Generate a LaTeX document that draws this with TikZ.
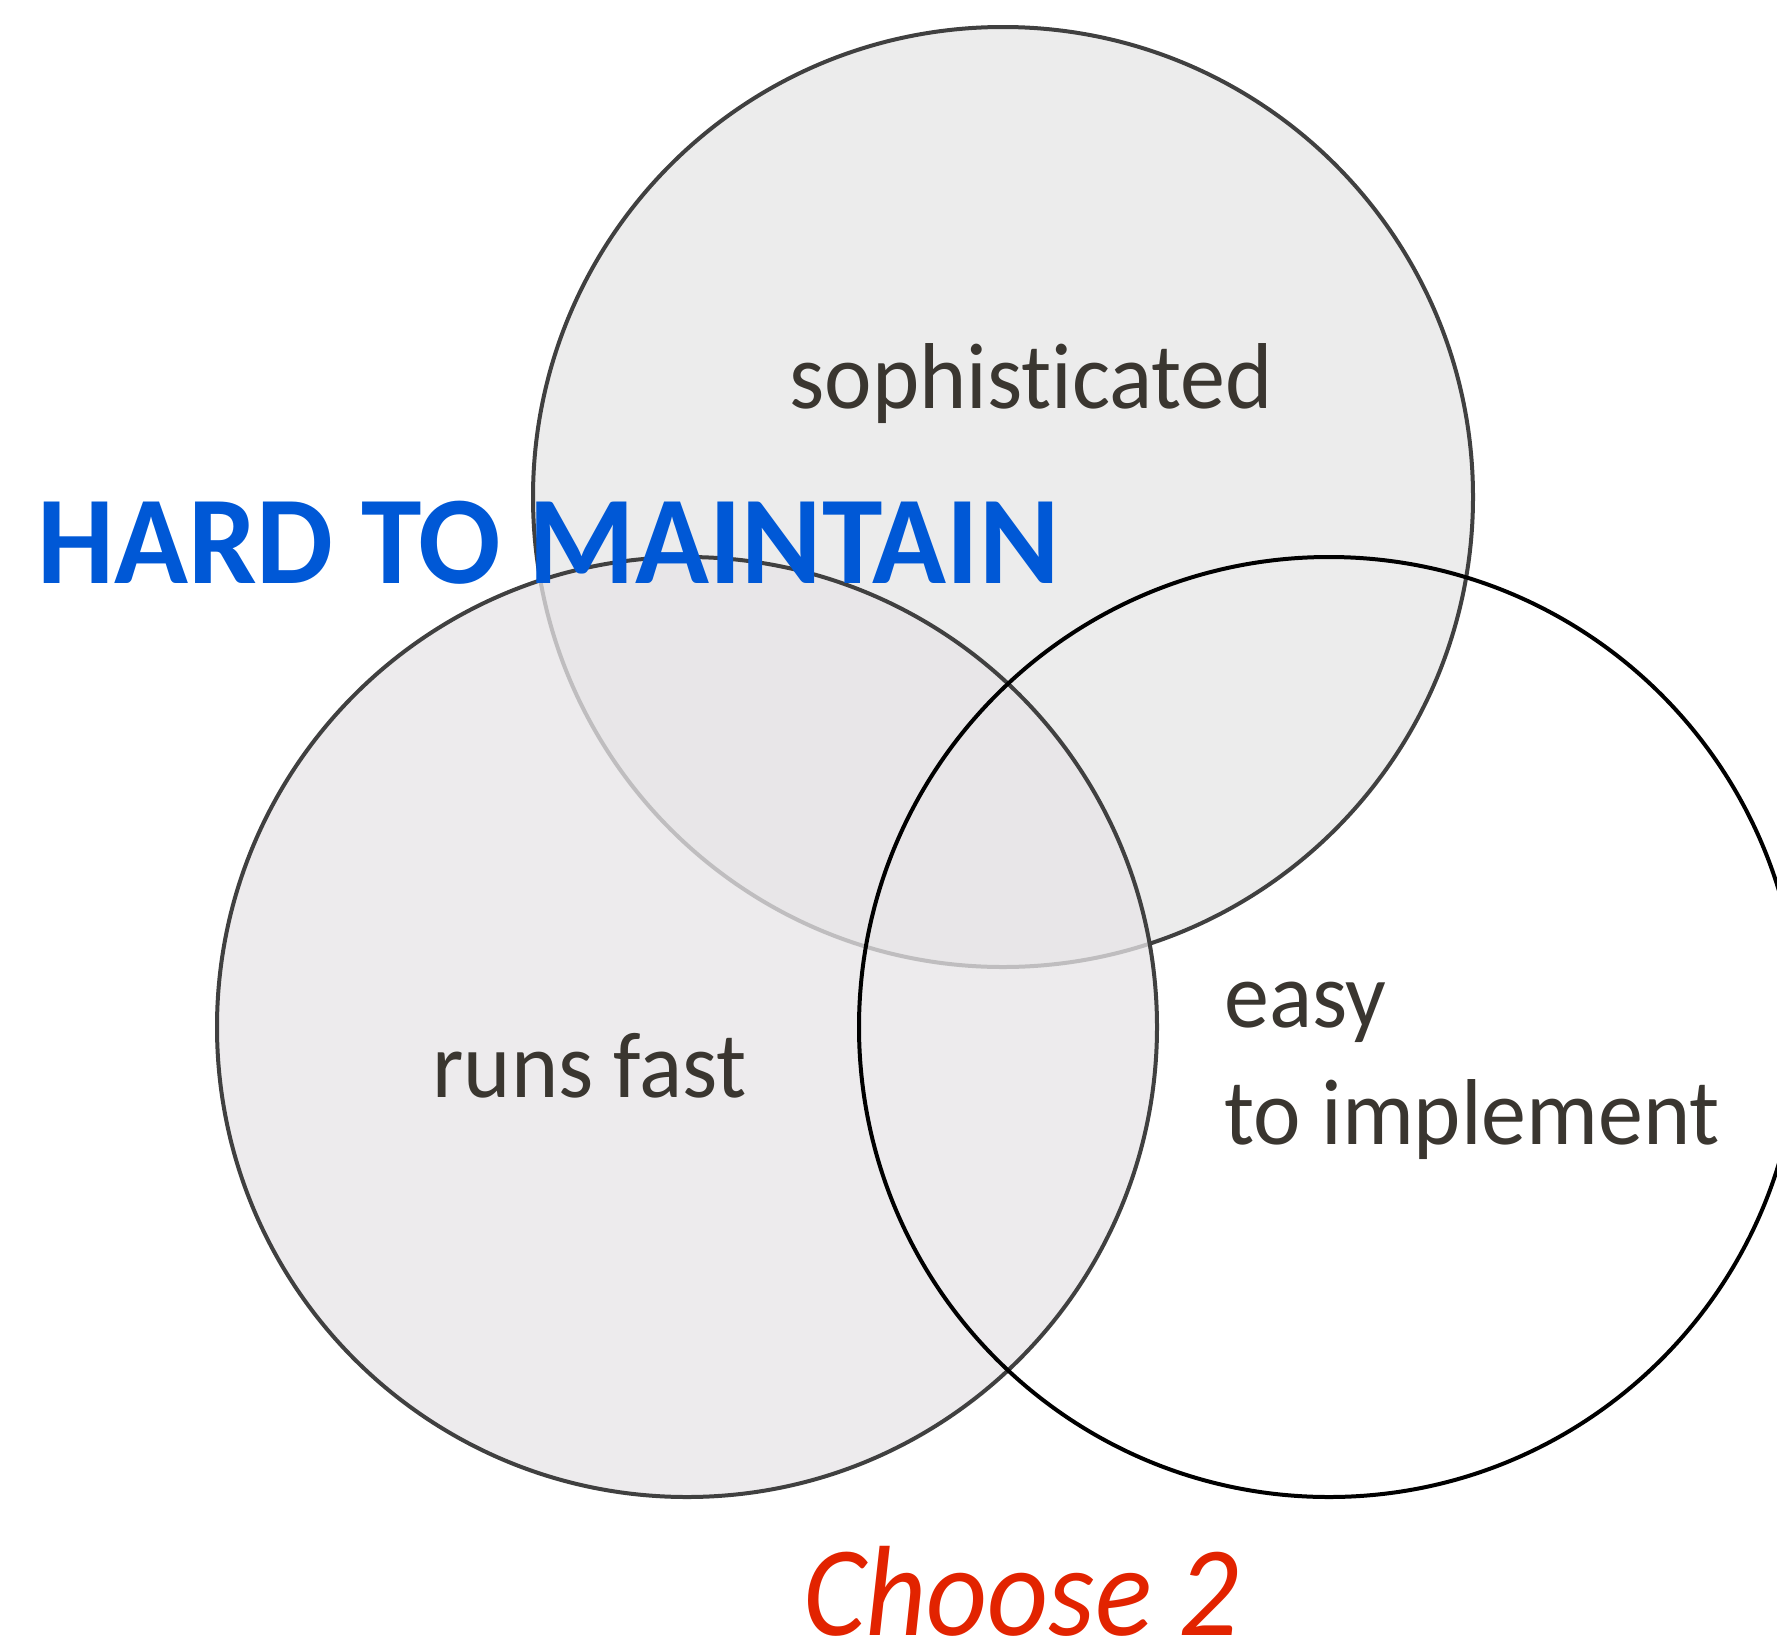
\documentclass[tikz,border=0pt]{standalone}
\usepackage{fontspec}
\setmainfont{Carlito}[Ligatures={NoCommon,TeX}]
\definecolor{strokegray}{HTML}{404040}
\definecolor{fillgray}{HTML}{ECECEC}
\definecolor{fillmix}{RGB}{231,229,231}
\definecolor{labeltext}{RGB}{58,54,48}
\definecolor{hardblue}{RGB}{0,88,214}
\definecolor{choosered}{RGB}{226,35,0}
\tikzset{
  vennline/.style={line width=2pt},
  lbl/.style={inner sep=0pt, anchor=base west, text=labeltext,
    font=\fontsize{45pt}{52pt}\selectfont},
}
\begin{document}
\begin{tikzpicture}[x=0.5pt,y=-0.5pt]
\useasboundingbox (0,0) rectangle (1777,1644);
\clip (0,0) rectangle (1777,1644);
% circles
\draw[vennline, draw=strokegray, fill=fillgray] (1003,497) circle [radius=235pt];
\draw[vennline, draw=strokegray, fill=fillmix, fill opacity=0.76] (687,1027) circle [radius=235pt];
\draw[vennline, draw=black] (1329,1027) circle [radius=235pt];
% labels
\node[lbl] (soph) at (789,408) {\scalebox{1}[1.04]{sophisticated}};
\node[lbl] (fast) at (432,1097) {\scalebox{1}[1.04]{runs fast}};
\node[lbl] (easy) at (1224,1027) {\scalebox{1}[1.04]{easy}};
\node[lbl] (impl) at (1224,1144) {\scalebox{1}[1.04]{to implement}};
\node[inner sep=0pt, anchor=base west, text=hardblue,
  font=\fontsize{61pt}{70pt}\selectfont\bfseries] (hard) at (37,583)
  {\scalebox{1}[1.03]{HARD TO MAINTAIN}};
\node[inner sep=0pt, anchor=base west, text=choosered,
  font=\fontsize{59.5pt}{66pt}\selectfont\itshape] (choose) at (803,1635)
  {\scalebox{1}[1.08]{Choose 2}};
\end{tikzpicture}
\end{document}
